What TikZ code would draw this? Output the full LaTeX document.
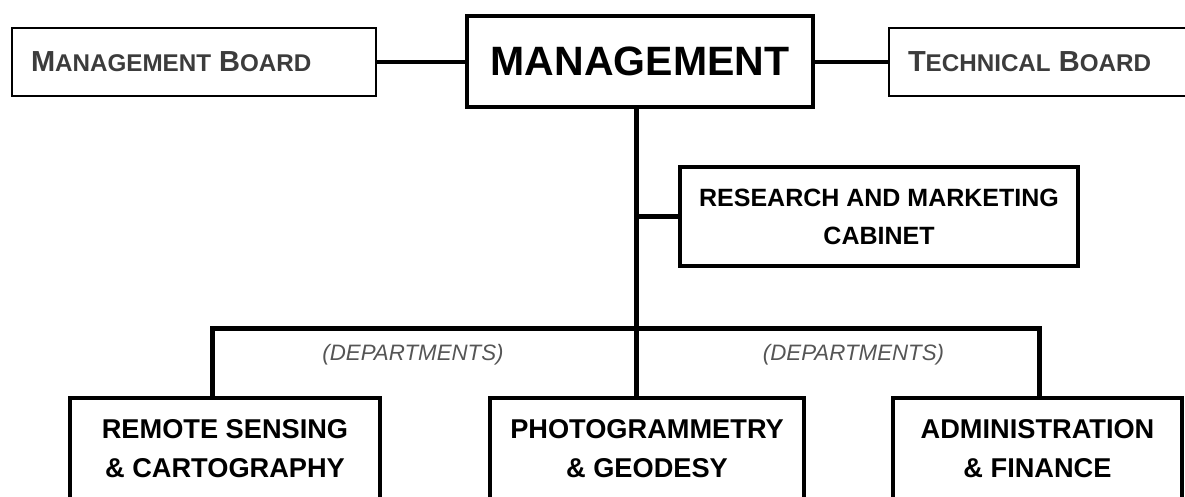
\documentclass[tikz,border=0pt]{standalone}
\usepackage{fontspec}
\setmainfont{Liberation Sans}
\definecolor{boardgray}{RGB}{60,60,60}
\definecolor{deptgray}{RGB}{85,85,85}
% larger initial letter for the small-caps board titles
\newcommand{\scinit}[1]{{\fontsize{29}{30}\selectfont #1}}
\begin{document}
\begin{tikzpicture}[x=1pt,y=-1pt,
  board/.style={draw, line width=2.3pt, rectangle, inner xsep=19pt, inner ysep=0pt,
    minimum height=67.7pt, align=left, text=boardgray,
    font=\bfseries\fontsize{24.2}{26}\selectfont},
  headbox/.style={draw, line width=4.3pt, rectangle, inner sep=0pt,
    minimum width=345.7pt, minimum height=90.7pt,
    font=\bfseries\fontsize{41}{44}\selectfont},
  cabinetbox/.style={draw, line width=4.3pt, rectangle, inner sep=0pt,
    minimum width=397.7pt, minimum height=98.7pt, align=center,
    font=\bfseries\fontsize{25}{38}\selectfont},
  deptbox/.style={draw, line width=4.3pt, rectangle, inner sep=0pt,
    minimum height=102pt, align=center,
    font=\bfseries\fontsize{27.2}{39}\selectfont},
  boardlink/.style={line width=3.3pt},
  trunk/.style={line width=5pt},
  deptlabel/.style={font=\itshape\fontsize{22.3}{24}\selectfont, text=deptgray, inner sep=0pt}
]
\useasboundingbox (0,0) rectangle (1185,497);
\fill[white] (0,0) rectangle (1185,497);
\clip (0,0) rectangle (1185,497);

% top row
\node[board, text width=326pt] (mb) at (194,62) {\scinit{M}ANAGEMENT \scinit{B}OARD};
\node[headbox] (mgmt) at (640,61.5) {MANAGEMENT};
\node[board, text width=274pt] (tb) at (1045,62) {\scinit{T}ECHNICAL \scinit{B}OARD};

% staff unit
\node[cabinetbox] (cab) at (879,216.5) {RESEARCH AND MARKETING\\CABINET};

% departments
\node[deptbox, minimum width=309.7pt] (rs) at (225,449) {REMOTE SENSING\\\& CARTOGRAPHY};
\node[deptbox, minimum width=313.7pt] (pg) at (647,449) {PHOTOGRAMMETRY\\\& GEODESY};
\node[deptbox, minimum width=288.7pt] (af) at (1037.5,449) {ADMINISTRATION\\\& FINANCE};

\node[deptlabel] (dl1) at (413,355) {(DEPARTMENTS)};
\node[deptlabel] (dl2) at (853.5,355) {(DEPARTMENTS)};

% connectors
\coordinate (hub) at (636,328);
\coordinate (ldrop) at (212.5,328);
\coordinate (rdrop) at (1039,328);

\draw[boardlink] (mb.east) -- (mb.east -| mgmt.west);
\draw[boardlink] (mgmt.east |- tb.west) -- (tb.west);
\draw[trunk] (hub |- mgmt.south) -- (hub |- pg.north);
\draw[trunk] (hub |- cab.west) -- (cab.west);
\draw[trunk] (ldrop |- rs.north) -- (ldrop) -- (rdrop) -- (rdrop |- af.north);
\end{tikzpicture}
\end{document}
